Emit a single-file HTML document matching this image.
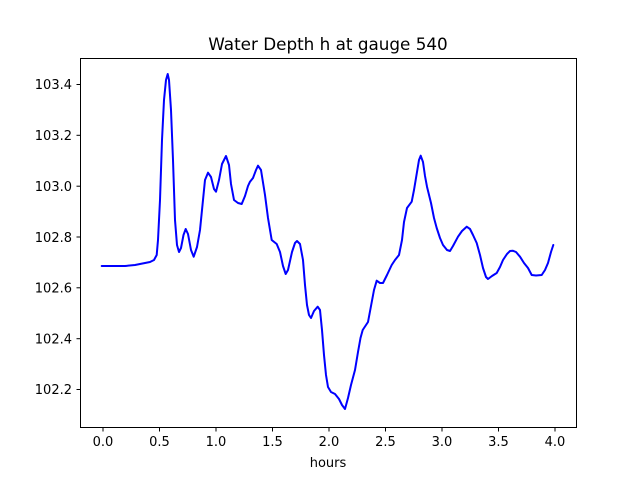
<!DOCTYPE html>
<html><head><style>
body{margin:0;background:#fff;}
svg{display:block;font-family:"DejaVu Sans","Liberation Sans",sans-serif;}
</style></head><body>
<svg width="640" height="480" xmlns="http://www.w3.org/2000/svg">
<rect x="0" y="0" width="640" height="480" fill="#fff"/>
<text x="328" y="50" font-size="16.8" text-anchor="middle">Water Depth h at gauge 540</text>
<polyline fill="none" stroke="#0000ff" stroke-width="2" stroke-linejoin="round" stroke-linecap="round" points="
101.7,266 125,266 135,265 145,263 150,262 154,260 156.7,255 158,240 160,200 162,140 164,100 166,80 167.7,74 169,80 171,110 173,160 175,220 177,245 179,252 181,248 183.5,235 185.7,229 188,234 191,250 193.7,256.7 197,247 200,230 203,200 205,180 208,172.7 211,177 214,189 216,191.7 219,180 222,164 226,156 229,165 231,184 234,200 238,203 241.7,204 245,196 248,186 250,181.7 253,178 256,170 258,165.7 261,170 265,195 268,218 271.7,240 276.7,244 280,252 283,266 285.7,274 288,270 292,252 295,243 297,241 300,244 303,260 305,285 307,305 309,315 311,318 314,311 317.7,306.7 320,310 322,330 324,355 326,375 328,387 331,392 335,394 339,399 342,405 345,409 348,398 351,385 355,370 358,352 360.5,338 362.7,330 368,322 371,306 374,290 376.7,280.7 380,283 383,283 387,275 391.7,265 395,260 399,255 402,240 404,222 407,208 411.7,201.7 414,190 417,172 419,160 420.7,155.7 423,162 425,176 427,186.7 431,203 434,218 436.7,228 440,238 443,245 447,250 450,251 453,246 458,236.7 462,231 466.7,226.7 470,229 473,235 476.7,243 480,255 483,268 486,277 488,279 492,276 496.7,273 500,267 503,260 507,254 510,251 512.7,250.7 516,252 520,256.7 524,263 528,268 531.7,275 536,275.5 541.7,275 545,270 548,263 551,252 553.3,245"/>
<rect x="80.5" y="58.5" width="496" height="369" fill="none" stroke="#000" stroke-width="1"/>
<g stroke="#000" stroke-width="1">
<line x1="103" y1="427.5" x2="103" y2="431.5"/>
<line x1="159.5" y1="427.5" x2="159.5" y2="431.5"/>
<line x1="216" y1="427.5" x2="216" y2="431.5"/>
<line x1="272.5" y1="427.5" x2="272.5" y2="431.5"/>
<line x1="329" y1="427.5" x2="329" y2="431.5"/>
<line x1="385.5" y1="427.5" x2="385.5" y2="431.5"/>
<line x1="442" y1="427.5" x2="442" y2="431.5"/>
<line x1="498.5" y1="427.5" x2="498.5" y2="431.5"/>
<line x1="555" y1="427.5" x2="555" y2="431.5"/>
<line x1="76.5" y1="84.5" x2="80.5" y2="84.5"/>
<line x1="76.5" y1="135.3" x2="80.5" y2="135.3"/>
<line x1="76.5" y1="186.2" x2="80.5" y2="186.2"/>
<line x1="76.5" y1="237" x2="80.5" y2="237"/>
<line x1="76.5" y1="287.8" x2="80.5" y2="287.8"/>
<line x1="76.5" y1="338.7" x2="80.5" y2="338.7"/>
<line x1="76.5" y1="389.5" x2="80.5" y2="389.5"/>
</g>
<g font-size="13" text-anchor="middle">
<text x="103" y="446">0.0</text>
<text x="159.5" y="446">0.5</text>
<text x="216" y="446">1.0</text>
<text x="272.5" y="446">1.5</text>
<text x="329" y="446">2.0</text>
<text x="385.5" y="446">2.5</text>
<text x="442" y="446">3.0</text>
<text x="498.5" y="446">3.5</text>
<text x="555" y="446">4.0</text>
<text x="328" y="467">hours</text>
</g>
<g font-size="13" text-anchor="end">
<text x="72" y="89">103.4</text>
<text x="72" y="140">103.2</text>
<text x="72" y="191">103.0</text>
<text x="72" y="242">102.8</text>
<text x="72" y="292.5">102.6</text>
<text x="72" y="343.5">102.4</text>
<text x="72" y="394">102.2</text>
</g>
</svg>
</body></html>
